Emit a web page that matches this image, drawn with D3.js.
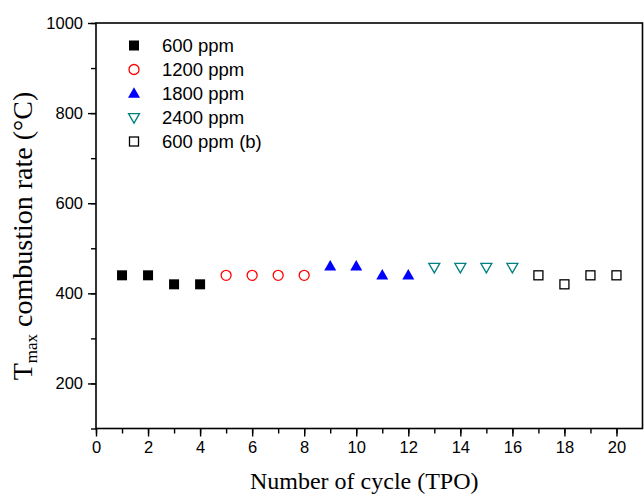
<!DOCTYPE html>
<html>
<head>
<meta charset="utf-8">
<script src="https://cdn.jsdelivr.net/npm/d3@7"></script>
<style>
  html, body { margin: 0; padding: 0; background: #fff; }
  svg { display: block; }
</style>
</head>
<body>
<svg id="chart" width="644" height="495"></svg>
<script>
// Cycle numbers and Tmax values per SO2 concentration group
const cycles600 = [1, 2, 3, 4];
const tmax600 = [440, 440, 420, 420];
const cycles1200 = [5, 6, 7, 8];
const tmax1200 = [440, 440, 440, 440];
const cycles1800 = [9, 10, 11, 12];
const tmax1800 = [460, 460, 440, 440];
const cycles2400 = [13, 14, 15, 16];
const tmax2400 = [458, 458, 458, 458];
const cycles600b = [17, 18, 19, 20];
const tmax600b = [440, 420, 440, 440];

const seriesNames = ["600 ppm", "1200 ppm", "1800 ppm", "2400 ppm", "600 ppm (b)"];
const xTicks = [0, 2, 4, 6, 8, 10, 12, 14, 16, 18, 20];
const yTicks = [200, 400, 600, 800, 1000];

const series = [
  { name: seriesNames[0], x: cycles600, y: tmax600, shape: "square", fill: "#000", stroke: "#000" },
  { name: seriesNames[1], x: cycles1200, y: tmax1200, shape: "circle", fill: "none", stroke: "#ff0000" },
  { name: seriesNames[2], x: cycles1800, y: tmax1800, shape: "triUp", fill: "#0000ff", stroke: "#0000ff" },
  { name: seriesNames[3], x: cycles2400, y: tmax2400, shape: "triDown", fill: "none", stroke: "#008080" },
  { name: seriesNames[4], x: cycles600b, y: tmax600b, shape: "square", fill: "none", stroke: "#000" }
];

const svg = d3.select("#chart");
const plotL = 96, plotR = 642.5, plotT = 23, plotB = 428.5;

const x = d3.scaleLinear().domain([0, 21]).range([plotL, plotR]);
const y = d3.scaleLinear().domain([100, 1000]).range([plotB, plotT]);

// Frame
svg.append("rect")
  .attr("x", plotL).attr("y", plotT)
  .attr("width", plotR - plotL).attr("height", plotB - plotT)
  .attr("fill", "none").attr("stroke", "#000").attr("stroke-width", 1.6);

const tickFont = "'Liberation Sans', Arial, sans-serif";

// Bottom axis: minor ticks every cycle, labelled every two
const xAxisG = svg.append("g").attr("transform", `translate(0,${plotB})`);
xAxisG.call(d3.axisBottom(x).tickValues(d3.range(0, 21, 1)).tickSize(5).tickFormat(""))
  .call(g => g.select(".domain").remove());
xAxisG.append("g").call(d3.axisBottom(x).tickValues(xTicks).tickSize(8).tickPadding(5).tickFormat(d3.format("d")))
  .call(g => g.select(".domain").remove());
xAxisG.selectAll("line").attr("stroke", "#000").attr("stroke-width", 1.4);
xAxisG.selectAll("text").attr("font-family", tickFont).attr("font-size", 16.5).attr("fill", "#000");

// Left axis: minor ticks every 100, labelled every 200
const yAxisG = svg.append("g").attr("transform", `translate(${plotL},0)`);
yAxisG.call(d3.axisLeft(y).tickValues(d3.range(100, 1001, 100)).tickSize(5).tickFormat(""))
  .call(g => g.select(".domain").remove());
yAxisG.append("g").call(d3.axisLeft(y).tickValues(yTicks).tickSize(8).tickPadding(5).tickFormat(d3.format("d")))
  .call(g => g.select(".domain").remove());
yAxisG.selectAll("line").attr("stroke", "#000").attr("stroke-width", 1.4);
yAxisG.selectAll("text").attr("font-family", tickFont).attr("font-size", 16.5).attr("fill", "#000");

// Marker generator
function drawMarker(g, shape, cx, cy, fill, stroke) {
  if (shape === "square") {
    const s = fill === "none" ? 9 : 10;
    g.append("rect").attr("x", cx - s / 2).attr("y", cy - s / 2)
      .attr("width", s).attr("height", s)
      .attr("fill", fill === "none" ? "#fff" : fill).attr("stroke", stroke)
      .attr("stroke-width", fill === "none" ? 1.3 : 0);
  } else if (shape === "circle") {
    g.append("circle").attr("cx", cx).attr("cy", cy).attr("r", 5)
      .attr("fill", "none").attr("stroke", stroke).attr("stroke-width", 1.3);
  } else if (shape === "triUp") {
    const w = 12, h = 10.5;
    g.append("path")
      .attr("d", `M${cx},${cy - h * 0.6}L${cx + w / 2},${cy + h * 0.4}L${cx - w / 2},${cy + h * 0.4}Z`)
      .attr("fill", fill).attr("stroke", "none");
  } else if (shape === "triDown") {
    const w = 11, h = 9.5;
    g.append("path")
      .attr("d", `M${cx - w / 2},${cy - h * 0.4}L${cx + w / 2},${cy - h * 0.4}L${cx},${cy + h * 0.6}Z`)
      .attr("fill", "none").attr("stroke", stroke).attr("stroke-width", 1.3);
  }
}

const pts = svg.append("g");
series.forEach(s => {
  s.x.forEach((cx, i) => drawMarker(pts, s.shape, x(cx), y(s.y[i]), s.fill, s.stroke));
});

// Legend
const legend = svg.append("g");
series.forEach((s, i) => {
  const ly = 45.5 + i * 24;
  drawMarker(legend, s.shape, 134, ly, s.fill, s.stroke);
  legend.append("text").attr("x", 162).attr("y", ly + 6.5)
    .attr("font-family", tickFont).attr("font-size", 18.5).attr("fill", "#000")
    .text(s.name);
});

// Axis titles
const serif = "'Liberation Serif', 'Times New Roman', serif";
svg.append("text")
  .attr("x", (plotL + plotR) / 2 - 5).attr("y", 489)
  .attr("text-anchor", "middle")
  .attr("font-family", serif).attr("font-size", 24).attr("fill", "#000")
  .text("Number of cycle (TPO)");

const yt = svg.append("text")
  .attr("transform", `translate(32,${236}) rotate(-90)`)
  .attr("text-anchor", "middle")
  .attr("font-family", serif).attr("font-size", 28).attr("fill", "#000");
yt.append("tspan").text("T");
yt.append("tspan").attr("font-size", 17).attr("dy", 5).text("max");
yt.append("tspan").attr("dy", -5).text(" combustion rate (°C)");
</script>
</body>
</html>
